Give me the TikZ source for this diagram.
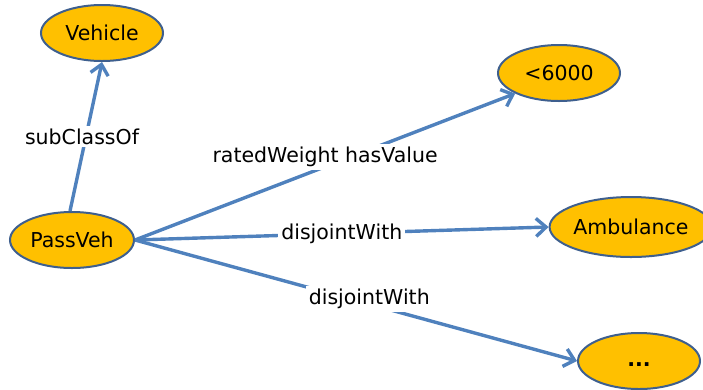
\documentclass[tikz,border=0pt]{standalone}
\usepackage{fontspec}
\setmainfont{DejaVu Sans}
\usetikzlibrary{shapes.geometric,arrows.meta}
\definecolor{linkblue}{HTML}{4F81BD}
\definecolor{conceptfill}{HTML}{FFC000}
\definecolor{conceptedge}{HTML}{3E5F8E}
\tikzset{
  concept/.style={ellipse, draw=conceptedge, line width=2pt, fill=conceptfill,
    minimum width=#1, minimum height=56pt, inner sep=0pt, font=\fontsize{20.5}{24}\selectfont},
  concept/.default=122pt,
  link/.style={draw=linkblue, line width=3.4pt,
    -{Straight Barb[length=10pt,width=18pt,line width=3.4pt]}},
  linklabel/.style={fill=white, inner sep=3pt, font=\fontsize{20.5}{24}\selectfont}
}
\begin{document}
\begin{tikzpicture}[x=1pt,y=-1pt]
  \useasboundingbox (0,0) rectangle (703,389);
  \node[concept] (vehicle) at (102,33) {Vehicle};
  \node[concept=124pt] (passveh) at (72,240) {PassVeh};
  \node[concept] (weight) at (559,73) {<6000};
  \node[concept=156pt,minimum height=60pt] (ambulance) at (631,227) {Ambulance};
  \node[concept] (more) at (639,361) {\smash{\raisebox{-5pt}{\textbf{...}}}};

  \draw[link] (passveh.north) ++(-2,0) -- (vehicle.south)
    node[linklabel, pos=0.5, xshift=-4pt] {subClassOf};
  \draw[link] (passveh.east) -- (weight.south west)
    node[linklabel, pos=0.5, yshift=10pt] {ratedWeight hasValue};
  \draw[link] (passveh.east) -- (ambulance.west)
    node[linklabel, pos=0.5] {disjointWith};
  \draw[link] (passveh.east) -- (more.west)
    node[linklabel, pos=0.53, yshift=5pt] {disjointWith};
\end{tikzpicture}
\end{document}
